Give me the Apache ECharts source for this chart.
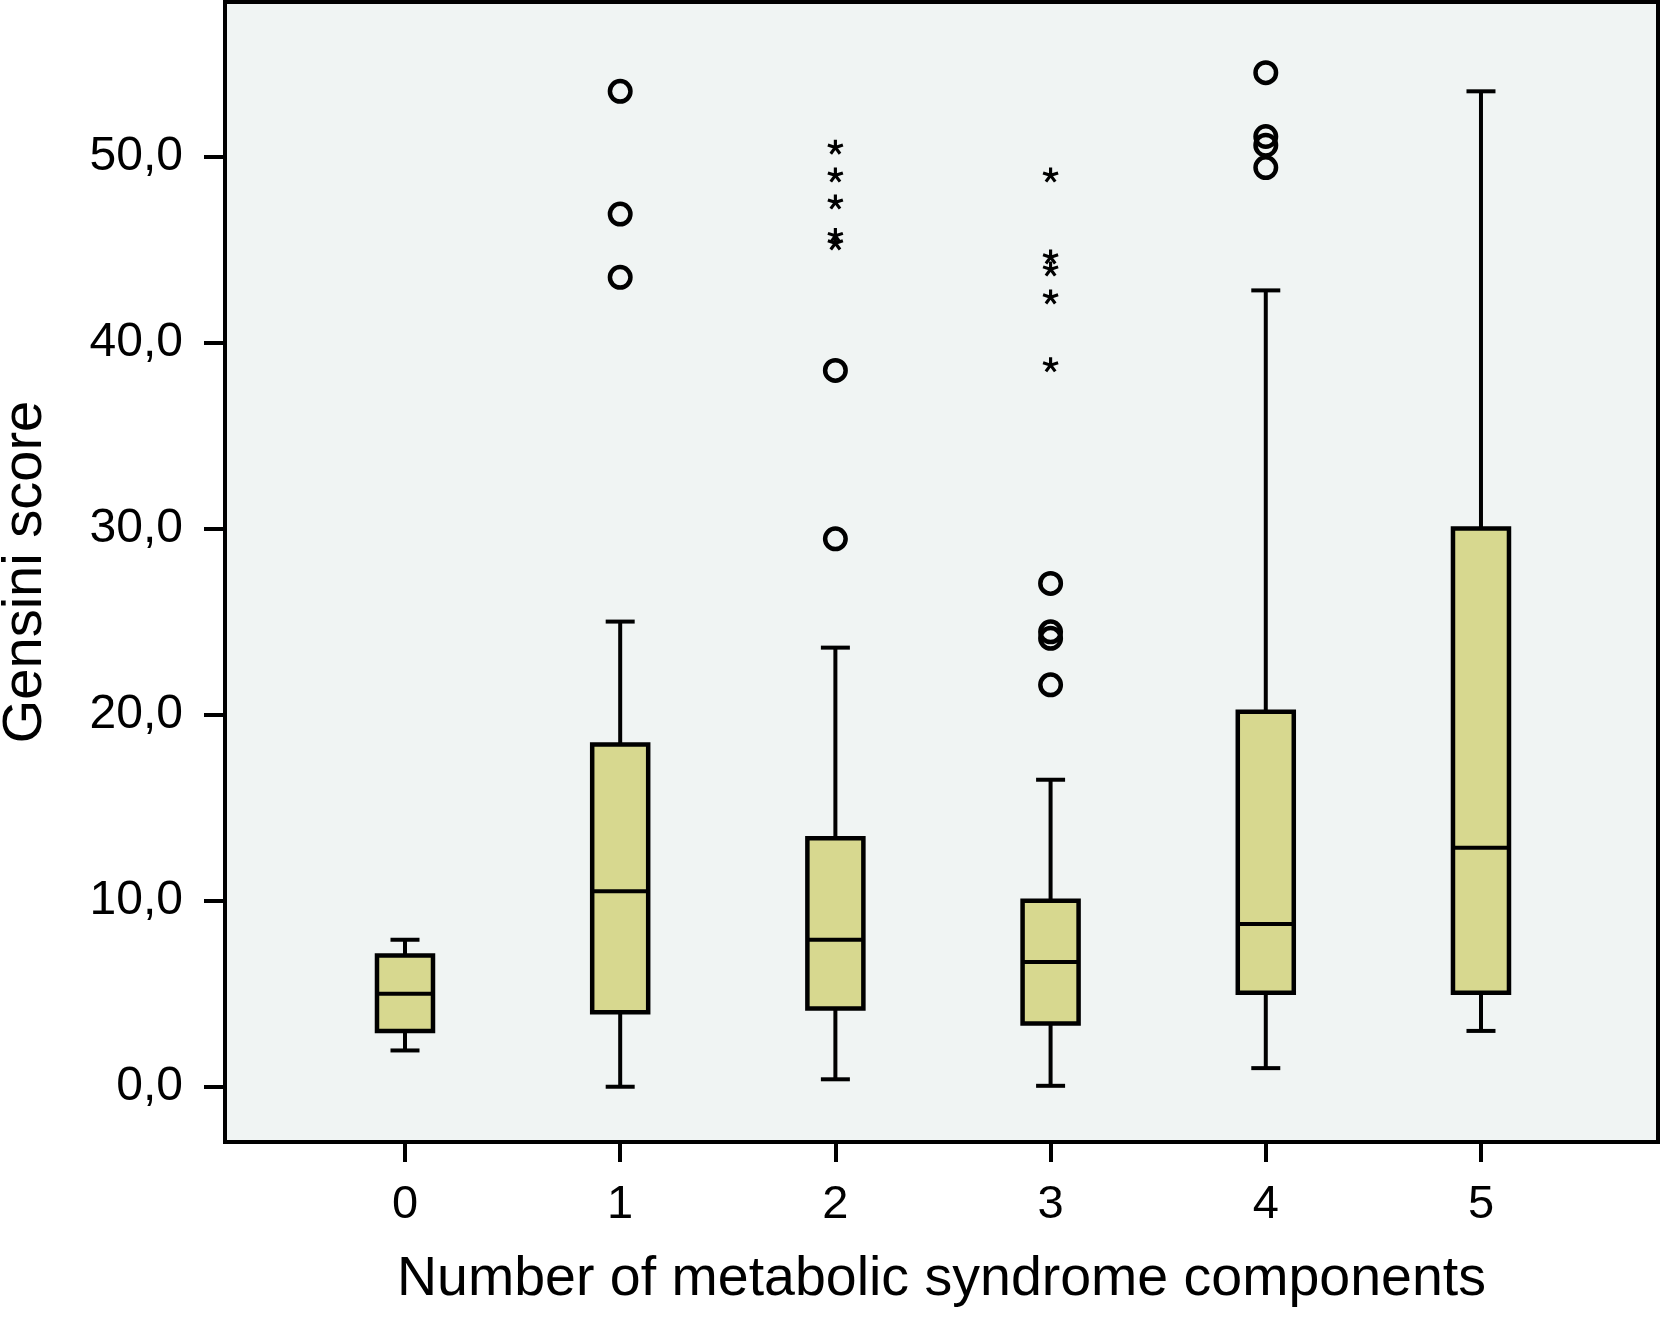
<!DOCTYPE html>
<html><head><meta charset="utf-8">
<script src="https://cdn.jsdelivr.net/npm/echarts@6/dist/echarts.min.js"></script>
<style>html,body{margin:0;padding:0;background:#fff}#c{width:1660px;height:1324px}</style>
</head><body><div id="c"></div>
<script>
// ---- data ----
const categories = [0, 1, 2, 3, 4, 5];
const whiskerLow  = [1.95, 0.0, 0.4, 0.05, 1.0, 3.0];
const q1          = [3.0, 4.0, 4.2, 3.4, 5.05, 5.05];
const median      = [5.0, 10.5, 7.9, 6.7, 8.75, 12.85];
const q3          = [7.05, 18.4, 13.35, 10.0, 20.15, 30.0];
const whiskerHigh = [7.9, 25.0, 23.6, 16.5, 42.8, 53.5];
const outlierCircles = [[1, 53.5], [1, 46.9], [1, 43.5], [2, 38.5], [2, 29.45], [3, 27.05], [3, 24.45], [3, 24.1], [3, 21.6], [4, 54.5], [4, 51.07], [4, 50.6], [4, 49.4]];
const extremeStars = [[2, 50.5], [2, 49.0], [2, 47.55], [2, 45.75], [2, 45.35], [3, 49.0], [3, 44.6], [3, 43.95], [3, 42.45], [3, 38.8]];
const yTicks = [0, 10, 20, 30, 40, 50];
const xTitle = 'Number of metabolic syndrome components';
const yTitle = 'Gensini score';

// ---- style ----
const FONT = '"Liberation Sans", Arial, Helvetica, sans-serif';
const boxFill = '#d7d88f';

// asterisk symbol path (5 arms)
function asteriskPath() {
  const cx = 50, cy = 50, L = 50, w = 10;
  let d = '';
  for (let k = 0; k < 5; k++) {
    const a = k * 72 * Math.PI / 180;
    const dx = Math.sin(a), dy = -Math.cos(a);
    const px = -dy * w, py = dx * w;
    const tx = cx + dx * L, ty = cy + dy * L;
    d += 'M' + (cx + px).toFixed(2) + ' ' + (cy + py).toFixed(2) +
         'L' + (tx + px).toFixed(2) + ' ' + (ty + py).toFixed(2) +
         'L' + (tx - px).toFixed(2) + ' ' + (ty - py).toFixed(2) +
         'L' + (cx - px).toFixed(2) + ' ' + (cy - py).toFixed(2) + 'Z';
  }
  return 'path://' + d;
}

const boxData = categories.map((c, i) => [c, whiskerLow[i], q1[i], median[i], q3[i], whiskerHigh[i]]);

const chart = echarts.init(document.getElementById('c'), null, {renderer: 'canvas'});
chart.setOption({
  animation: false,
  backgroundColor: '#ffffff',
  grid: {left: 225, right: 2, top: 2, bottom: 182, show: true, backgroundColor: '#f0f4f3', borderColor: '#000', borderWidth: 4,
    outerBoundsMode: 'none', containLabel: false},
  xAxis: {
    type: 'value', min: -0.8364, max: 5.8226,
    axisLine: {show: false, onZero: false}, splitLine: {show: false},
    axisTick: {show: true, customValues: categories, length: 20, inside: false, lineStyle: {color: '#000', width: 4}},
    axisLabel: {customValues: categories, margin: 40, fontSize: 47, color: '#000', fontFamily: FONT},
    name: xTitle, nameLocation: 'middle', nameGap: 110,
    nameTextStyle: {fontSize: 55.5, color: '#000', fontFamily: FONT}
  },
  yAxis: {
    type: 'value', min: -2.97, max: 58.3,
    axisLine: {show: false, onZero: false}, splitLine: {show: false},
    axisTick: {show: true, customValues: yTicks, length: 21, inside: false, lineStyle: {color: '#000', width: 4}},
    axisLabel: {customValues: yTicks, margin: 42, fontSize: 48, color: '#000', fontFamily: FONT,
      formatter: v => v.toFixed(1).replace('.', ',')},
    name: yTitle, nameLocation: 'middle', nameGap: 171, nameRotate: 90,
    nameTextStyle: {fontSize: 56, color: '#000', fontFamily: FONT}
  },
  series: [
    {
      type: 'custom',
      data: boxData,
      encode: {x: 0, y: [1, 2, 3, 4, 5]},
      renderItem: function (params, api) {
        const x = api.value(0);
        const lo = api.coord([x, api.value(1)]);
        const b1 = api.coord([x, api.value(2)]);
        const md = api.coord([x, api.value(3)]);
        const b3 = api.coord([x, api.value(4)]);
        const hi = api.coord([x, api.value(5)]);
        const cx = lo[0], half = 28, cap = 14.5;
        const ls = {stroke: '#000', lineWidth: 4};
        return {
          type: 'group',
          children: [
            {type: 'line', shape: {x1: cx, y1: hi[1], x2: cx, y2: b3[1]}, style: ls},
            {type: 'line', shape: {x1: cx, y1: b1[1], x2: cx, y2: lo[1]}, style: ls},
            {type: 'line', shape: {x1: cx - cap, y1: hi[1], x2: cx + cap, y2: hi[1]}, style: ls},
            {type: 'line', shape: {x1: cx - cap, y1: lo[1], x2: cx + cap, y2: lo[1]}, style: ls},
            {type: 'rect', shape: {x: cx - half, y: b3[1], width: 2 * half, height: b1[1] - b3[1]},
              style: {fill: boxFill, stroke: '#000', lineWidth: 4.5}},
            {type: 'line', shape: {x1: cx - half, y1: md[1], x2: cx + half, y2: md[1]}, style: {stroke: '#000', lineWidth: 4}}
          ]
        };
      }
    },
    {
      type: 'scatter',
      data: outlierCircles,
      symbol: 'circle', symbolSize: 20.5,
      itemStyle: {color: 'rgba(0,0,0,0)', borderColor: '#000', borderWidth: 4.5, opacity: 1}
    },
    {
      type: 'scatter',
      data: extremeStars,
      symbol: asteriskPath(), symbolSize: [16, 15],
      itemStyle: {color: '#000', opacity: 1}
    }
  ]
});
</script>
</body></html>
